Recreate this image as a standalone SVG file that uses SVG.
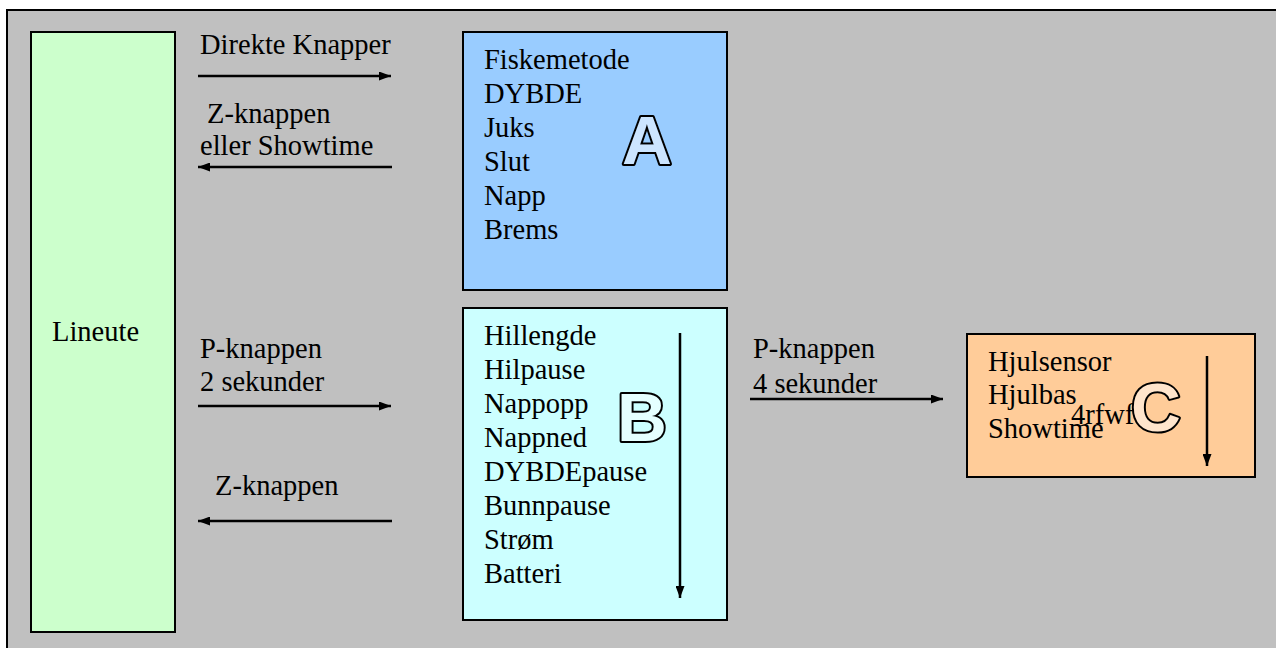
<svg xmlns="http://www.w3.org/2000/svg" width="1276" height="648" viewBox="0 0 1276 648">
<defs>
<marker id="ah" markerWidth="12" markerHeight="9" refX="12" refY="4.5" orient="auto" markerUnits="userSpaceOnUse">
<path d="M0,0 L12,4.5 L0,9 Z" fill="#000"/>
</marker>
<style>
text.t{font-family:'Liberation Serif','Times New Roman',serif;font-size:28.5px;fill:#000}
rect.box{stroke:#000;stroke-width:2}
text.big{font-family:'Liberation Sans',Arial,sans-serif;font-weight:bold;font-size:69px;stroke:#000;stroke-width:4;stroke-linejoin:round;paint-order:stroke}
line.c{stroke:#000;stroke-width:2.5;fill:none;marker-end:url(#ah)}
</style>
</defs>
<rect x="7" y="10" width="1290" height="660" fill="#C0C0C0" stroke="#000" stroke-width="2"/>
<g id="lineute">
<rect class="box" x="31" y="32" width="144" height="600" fill="#CCFFCC"/>
<text class="t" x="52" y="341">Lineute</text>
</g>
<g id="boxA">
<rect class="box" x="463" y="32" width="264" height="258" fill="#99CCFF"/>
<text class="t" x="484" y="69">Fiskemetode</text>
<text class="t" x="484" y="103">DYBDE</text>
<text class="t" x="484" y="137">Juks</text>
<text class="t" x="484" y="171">Slut</text>
<text class="t" x="484" y="205">Napp</text>
<text class="t" x="484" y="239">Brems</text>
<text class="big" x="622" y="164" fill="#CCE5FF">A</text>
</g>
<g id="boxB">
<rect class="box" x="463" y="308" width="264" height="312" fill="#CCFFFF"/>
<text class="t" x="484" y="345">Hillengde</text>
<text class="t" x="484" y="379">Hilpause</text>
<text class="t" x="484" y="413">Nappopp</text>
<text class="t" x="484" y="447">Nappned</text>
<text class="t" x="484" y="481">DYBDEpause</text>
<text class="t" x="484" y="515">Bunnpause</text>
<text class="t" x="484" y="549">Strøm</text>
<text class="t" x="484" y="583">Batteri</text>
<text class="big" x="617" y="441" fill="#E5FFFF">B</text>
</g>
<g id="boxC">
<rect class="box" x="967" y="334" width="288" height="143" fill="#FFCC99"/>
<text class="t" x="988" y="371">Hjulsensor</text>
<text class="t" x="988" y="404">Hjulbas</text>
<text class="t" x="988" y="438">Showtime</text>
<text class="t" x="1071" y="424">4rfwf</text>
<text class="big" x="1131" y="431" fill="#FFE5CC">C</text>
</g>
<g id="labels">
<text class="t" x="200" y="54">Direkte Knapper</text>
<text class="t" x="207" y="123">Z-knappen</text>
<text class="t" x="200" y="155">eller Showtime</text>
<text class="t" x="200" y="358">P-knappen</text>
<text class="t" x="200" y="391">2 sekunder</text>
<text class="t" x="215" y="495">Z-knappen</text>
<text class="t" x="753" y="358">P-knappen</text>
<text class="t" x="753" y="393">4 sekunder</text>
</g>
<g id="connectors">
<line class="c" x1="198" y1="76" x2="391" y2="76"/>
<line class="c" x1="392" y1="167" x2="198" y2="167"/>
<line class="c" x1="198" y1="406" x2="391" y2="406"/>
<line class="c" x1="392" y1="521" x2="198" y2="521"/>
<line class="c" x1="750" y1="399" x2="943" y2="399"/>
<line class="c" x1="680" y1="333" x2="680" y2="598"/>
<line class="c" x1="1207" y1="356" x2="1207" y2="466"/>
</g>
</svg>
